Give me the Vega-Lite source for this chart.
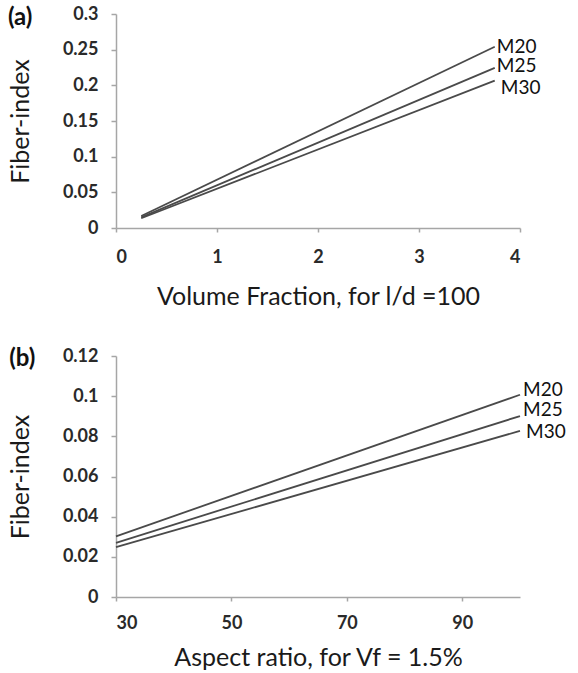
{
  "$schema": "https://vega.github.io/schema/vega-lite/v6.json",
  "padding": {"left": 7, "top": 5, "right": 5, "bottom": 3},
  "background": "white",
  "spacing": 38,
  "config": {
    "view": {"stroke": null},
    "font": "Lato",
    "axis": {
      "grid": false,
      "domainColor": "#a6a6a6",
      "domainWidth": 1.5,
      "tickColor": "#a6a6a6",
      "tickWidth": 1.5,
      "labelFont": "Lato",
      "labelFontSize": 18,
      "labelFontWeight": "bold",
      "labelColor": "#2a2a2a",
      "labelOverlap": false,
      "titleFont": "Lato",
      "titleFontSize": 25,
      "titleFontWeight": "normal",
      "titleColor": "#1a1a1a"
    }
  },
  "datasets": {
    "a": [
      {"series": "M20", "vf": 0.25, "fi": 0.0169},
      {"series": "M20", "vf": 3.75, "fi": 0.254},
      {"series": "M25", "vf": 0.25, "fi": 0.0149},
      {"series": "M25", "vf": 3.75, "fi": 0.2245},
      {"series": "M30", "vf": 0.25, "fi": 0.0137},
      {"series": "M30", "vf": 3.75, "fi": 0.2065}
    ],
    "b": [
      {"series": "M20", "ar": 30, "fi": 0.0302},
      {"series": "M20", "ar": 100, "fi": 0.1007},
      {"series": "M25", "ar": 30, "fi": 0.027},
      {"series": "M25", "ar": 100, "fi": 0.0901},
      {"series": "M30", "ar": 30, "fi": 0.0248},
      {"series": "M30", "ar": 100, "fi": 0.0827}
    ]
  },
  "vconcat": [
    {
      "width": 404,
      "height": 214,
      "layer": [
        {
          "data": {"name": "a"},
          "mark": {"type": "line", "color": "#4a4a4a", "strokeWidth": 1.8},
          "encoding": {
            "x": {"field": "vf", "type": "quantitative",
              "scale": {"domain": [0, 4], "nice": false, "zero": false},
              "axis": {"values": [0, 1, 2, 3, 4], "title": "Volume Fraction, for l/d =100", "tickSize": 4, "labelPadding": 16, "titlePadding": 18, "format": "~f"}},
            "y": {"field": "fi", "type": "quantitative",
              "scale": {"domain": [0, 0.3], "nice": false},
              "axis": {"values": [0, 0.05, 0.1, 0.15, 0.2, 0.25, 0.3], "title": "Fiber-index", "tickSize": 5, "labelPadding": 13, "titlePadding": 29, "format": "~f"}},
            "detail": {"field": "series"}
          }
        },
        {
          "data": {"name": "a"},
          "transform": [{"filter": "datum.vf === 3.75"}],
          "mark": {"type": "text", "align": "left", "baseline": "middle", "fontSize": 19, "color": "#111",
            "dx": {"expr": "datum.series === 'M30' ? 6 : 2"},
            "dy": {"expr": "datum.series === 'M30' ? 7 : (datum.series === 'M25' ? -2 : 0)"}},
          "encoding": {
            "x": {"field": "vf", "type": "quantitative",
              "scale": {"domain": [0, 4], "nice": false, "zero": false},
              "axis": {"values": [0, 1, 2, 3, 4], "title": "Volume Fraction, for l/d =100", "tickSize": 4, "labelPadding": 16, "titlePadding": 18, "format": "~f"}},
            "y": {"field": "fi", "type": "quantitative",
              "scale": {"domain": [0, 0.3], "nice": false},
              "axis": {"values": [0, 0.05, 0.1, 0.15, 0.2, 0.25, 0.3], "title": "Fiber-index", "tickSize": 5, "labelPadding": 13, "titlePadding": 29, "format": "~f"}},
            "text": {"field": "series"}
          }
        },
        {
          "data": {"values": [{"panel": "(a)"}]},
          "mark": {"type": "text", "align": "left", "baseline": "middle", "fontSize": 24, "fontWeight": "bold", "color": "#111"},
          "encoding": {
            "x": {"datum": -1.07, "type": "quantitative",
              "scale": {"domain": [0, 4], "nice": false, "zero": false},
              "axis": {"values": [0, 1, 2, 3, 4], "title": "Volume Fraction, for l/d =100", "tickSize": 4, "labelPadding": 16, "titlePadding": 18, "format": "~f"}},
            "y": {"datum": 0.2944, "type": "quantitative",
              "scale": {"domain": [0, 0.3], "nice": false},
              "axis": {"values": [0, 0.05, 0.1, 0.15, 0.2, 0.25, 0.3], "title": "Fiber-index", "tickSize": 5, "labelPadding": 13, "titlePadding": 29, "format": "~f"}},
            "text": {"field": "panel"}
          }
        }
      ]
    },
    {
      "width": 404,
      "height": 241,
      "layer": [
        {
          "data": {"name": "b"},
          "mark": {"type": "line", "color": "#4a4a4a", "strokeWidth": 1.8},
          "encoding": {
            "x": {"field": "ar", "type": "quantitative",
              "scale": {"domain": [30, 100], "nice": false, "zero": false},
              "axis": {"values": [30, 50, 70, 90], "title": "Aspect ratio, for Vf = 1.5%", "tickSize": 4, "labelPadding": 13, "titlePadding": 13}},
            "y": {"field": "fi", "type": "quantitative",
              "scale": {"domain": [0, 0.12], "nice": false},
              "axis": {"values": [0, 0.02, 0.04, 0.06, 0.08, 0.1, 0.12], "title": "Fiber-index", "tickSize": 5, "labelPadding": 13, "titlePadding": 29, "format": "~f"}},
            "detail": {"field": "series"}
          }
        },
        {
          "data": {"name": "b"},
          "transform": [{"filter": "datum.ar === 100"}],
          "mark": {"type": "text", "align": "left", "baseline": "middle", "fontSize": 19, "color": "#111",
            "dx": {"expr": "datum.series === 'M30' ? 6 : 3"},
            "dy": {"expr": "datum.series === 'M30' ? 1 : (datum.series === 'M25' ? -6 : -5)"}},
          "encoding": {
            "x": {"field": "ar", "type": "quantitative",
              "scale": {"domain": [30, 100], "nice": false, "zero": false},
              "axis": {"values": [30, 50, 70, 90], "title": "Aspect ratio, for Vf = 1.5%", "tickSize": 4, "labelPadding": 13, "titlePadding": 13}},
            "y": {"field": "fi", "type": "quantitative",
              "scale": {"domain": [0, 0.12], "nice": false},
              "axis": {"values": [0, 0.02, 0.04, 0.06, 0.08, 0.1, 0.12], "title": "Fiber-index", "tickSize": 5, "labelPadding": 13, "titlePadding": 29, "format": "~f"}},
            "text": {"field": "series"}
          }
        },
        {
          "data": {"values": [{"panel": "(b)"}]},
          "mark": {"type": "text", "align": "left", "baseline": "middle", "fontSize": 24, "fontWeight": "bold", "color": "#111"},
          "encoding": {
            "x": {"datum": 11.5, "type": "quantitative",
              "scale": {"domain": [30, 100], "nice": false, "zero": false},
              "axis": {"values": [30, 50, 70, 90], "title": "Aspect ratio, for Vf = 1.5%", "tickSize": 4, "labelPadding": 13, "titlePadding": 13}},
            "y": {"datum": 0.1185, "type": "quantitative",
              "scale": {"domain": [0, 0.12], "nice": false},
              "axis": {"values": [0, 0.02, 0.04, 0.06, 0.08, 0.1, 0.12], "title": "Fiber-index", "tickSize": 5, "labelPadding": 13, "titlePadding": 29, "format": "~f"}},
            "text": {"field": "panel"}
          }
        }
      ]
    }
  ]
}
